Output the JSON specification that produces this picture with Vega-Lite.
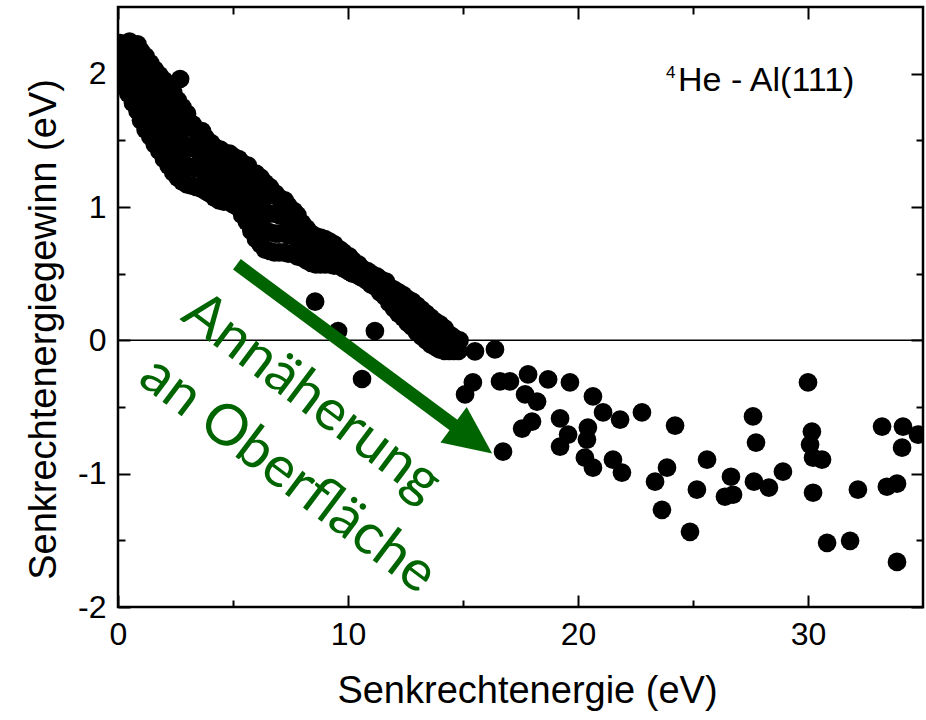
{
  "$schema": "https://vega.github.io/schema/vega-lite/v6.json",
  "width": 805,
  "height": 600,
  "autosize": {"type": "none"},
  "padding": {"left": 118, "top": 7, "right": 3, "bottom": 113},
  "background": "white",
  "config": {
    "view": {"stroke": "#000000", "strokeWidth": 2.5},
    "axis": {"grid": false, "domain": false, "labelFlush": false, "labelOverlap": false, "tickColor": "#000000", "tickWidth": 2}
  },
  "datasets": {
    "pts": [
      {"x":0.1,"y":1.95},{"x":0.1,"y":2.05},{"x":0.15,"y":2.15},{"x":0.1,"y":2.23},
      {"x":0.45,"y":1.85},{"x":0.5,"y":1.97},{"x":0.45,"y":2.1},{"x":0.5,"y":2.24},
      {"x":0.85,"y":1.72},{"x":0.8,"y":1.85},{"x":0.85,"y":1.98},{"x":0.8,"y":2.1},{"x":0.85,"y":2.22},
      {"x":1.2,"y":1.58},{"x":1.25,"y":1.72},{"x":1.2,"y":1.86},{"x":1.25,"y":2.0},{"x":1.2,"y":2.13},
      {"x":1.6,"y":1.47},{"x":1.65,"y":1.6},{"x":1.6,"y":1.75},{"x":1.65,"y":1.9},{"x":1.6,"y":2.03},
      {"x":2.0,"y":1.36},{"x":2.05,"y":1.5},{"x":2.0,"y":1.65},{"x":2.05,"y":1.8},{"x":2.0,"y":1.95},
      {"x":2.4,"y":1.26},{"x":2.45,"y":1.4},{"x":2.4,"y":1.55},{"x":2.45,"y":1.7},{"x":2.4,"y":1.86},
      {"x":2.7,"y":1.96},
      {"x":2.8,"y":1.19},{"x":2.85,"y":1.33},{"x":2.8,"y":1.48},{"x":2.85,"y":1.62},{"x":2.8,"y":1.75},
      {"x":3.2,"y":1.16},{"x":3.25,"y":1.3},{"x":3.2,"y":1.45},{"x":3.25,"y":1.62},
      {"x":3.6,"y":1.14},{"x":3.65,"y":1.28},{"x":3.6,"y":1.42},{"x":3.65,"y":1.57},
      {"x":4.0,"y":1.1},{"x":4.05,"y":1.23},{"x":4.0,"y":1.36},{"x":4.05,"y":1.48},
      {"x":4.4,"y":1.05},{"x":4.45,"y":1.18},{"x":4.4,"y":1.3},{"x":4.45,"y":1.43},
      {"x":4.8,"y":1.04},{"x":4.85,"y":1.16},{"x":4.8,"y":1.28},{"x":4.85,"y":1.4},
      {"x":5.2,"y":1.0},{"x":5.25,"y":1.12},{"x":5.2,"y":1.24},{"x":5.25,"y":1.36},
      {"x":5.6,"y":0.89},{"x":5.65,"y":1.02},{"x":5.6,"y":1.16},{"x":5.65,"y":1.31},
      {"x":6.0,"y":0.76},{"x":6.05,"y":0.9},{"x":6.0,"y":1.05},{"x":6.05,"y":1.16},{"x":6.0,"y":1.25},
      {"x":6.4,"y":0.68},{"x":6.45,"y":0.82},{"x":6.4,"y":0.96},{"x":6.45,"y":1.08},{"x":6.4,"y":1.18},
      {"x":6.8,"y":0.66},{"x":6.85,"y":0.8},{"x":6.8,"y":0.95},{"x":6.85,"y":1.1},
      {"x":7.2,"y":0.66},{"x":7.25,"y":0.8},{"x":7.2,"y":0.93},{"x":7.25,"y":1.05},
      {"x":7.6,"y":0.65},{"x":7.65,"y":0.78},{"x":7.6,"y":0.9},{"x":7.65,"y":0.97},
      {"x":8.0,"y":0.62},{"x":8.05,"y":0.75},{"x":8.0,"y":0.88},
      {"x":8.4,"y":0.58},{"x":8.45,"y":0.7},{"x":8.4,"y":0.8},
      {"x":8.8,"y":0.57},{"x":8.85,"y":0.67},{"x":8.8,"y":0.77},
      {"x":9.2,"y":0.57},{"x":9.25,"y":0.66},{"x":9.2,"y":0.74},
      {"x":9.6,"y":0.56},{"x":9.65,"y":0.68},
      {"x":10.0,"y":0.52},{"x":10.05,"y":0.63},
      {"x":10.4,"y":0.49},{"x":10.45,"y":0.57},
      {"x":10.8,"y":0.45},{"x":10.85,"y":0.52},
      {"x":11.2,"y":0.4},{"x":11.25,"y":0.48},
      {"x":11.6,"y":0.33},{"x":11.65,"y":0.44},
      {"x":12.0,"y":0.24},{"x":12.05,"y":0.32},{"x":12.0,"y":0.38},
      {"x":12.4,"y":0.17},{"x":12.45,"y":0.26},{"x":12.4,"y":0.34},
      {"x":12.8,"y":0.1},{"x":12.85,"y":0.2},{"x":12.8,"y":0.29},
      {"x":13.2,"y":0.03},{"x":13.25,"y":0.13},{"x":13.2,"y":0.23},
      {"x":13.6,"y":-0.03},{"x":13.65,"y":0.07},{"x":13.6,"y":0.17},
      {"x":14.0,"y":-0.07},{"x":14.05,"y":0.03},{"x":14.0,"y":0.12},
      {"x":14.4,"y":-0.08},{"x":14.45,"y":0.04},
      {"x":14.8,"y":-0.08},{"x":14.85,"y":0.0},
      {"x":0.3,"y":1.9},{"x":0.3,"y":2.0},{"x":0.3,"y":2.1},{"x":0.3,"y":2.2},
      {"x":0.65,"y":1.78},{"x":0.65,"y":1.9},{"x":0.65,"y":2.04},{"x":0.65,"y":2.16},
      {"x":1.0,"y":1.65},{"x":1.0,"y":1.79},{"x":1.0,"y":1.93},{"x":1.0,"y":2.06},{"x":1.0,"y":2.17},
      {"x":1.4,"y":1.53},{"x":1.4,"y":1.66},{"x":1.4,"y":1.8},{"x":1.4,"y":1.95},{"x":1.4,"y":2.08},
      {"x":1.8,"y":1.42},{"x":1.8,"y":1.55},{"x":1.8,"y":1.7},{"x":1.8,"y":1.85},{"x":1.8,"y":1.99},
      {"x":2.2,"y":1.31},{"x":2.2,"y":1.45},{"x":2.2,"y":1.6},{"x":2.2,"y":1.75},{"x":2.2,"y":1.9},
      {"x":2.6,"y":1.22},{"x":2.6,"y":1.36},{"x":2.6,"y":1.5},{"x":2.6,"y":1.64},{"x":2.6,"y":1.8},
      {"x":3.0,"y":1.17},{"x":3.0,"y":1.3},{"x":3.0,"y":1.45},{"x":3.0,"y":1.6},{"x":3.0,"y":1.7},
      {"x":3.4,"y":1.15},{"x":3.4,"y":1.29},{"x":3.4,"y":1.43},{"x":3.4,"y":1.57},
      {"x":3.8,"y":1.12},{"x":3.8,"y":1.25},{"x":3.8,"y":1.38},{"x":3.8,"y":1.52},
      {"x":4.2,"y":1.07},{"x":4.2,"y":1.2},{"x":4.2,"y":1.33},{"x":4.2,"y":1.45},
      {"x":4.6,"y":1.04},{"x":4.6,"y":1.17},{"x":4.6,"y":1.29},{"x":4.6,"y":1.41},
      {"x":5.0,"y":1.02},{"x":5.0,"y":1.14},{"x":5.0,"y":1.26},{"x":5.0,"y":1.38},
      {"x":5.4,"y":0.94},{"x":5.4,"y":1.07},{"x":5.4,"y":1.2},{"x":5.4,"y":1.33},
      {"x":5.8,"y":0.82},{"x":5.8,"y":0.96},{"x":5.8,"y":1.1},{"x":5.8,"y":1.24},
      {"x":6.2,"y":0.72},{"x":6.2,"y":0.86},{"x":6.2,"y":1.0},{"x":6.2,"y":1.12},{"x":6.2,"y":1.22},
      {"x":6.6,"y":0.67},{"x":6.6,"y":0.81},{"x":6.6,"y":0.95},{"x":6.6,"y":1.09},{"x":6.6,"y":1.15},
      {"x":7.0,"y":0.66},{"x":7.0,"y":0.8},{"x":7.0,"y":0.94},{"x":7.0,"y":1.07},
      {"x":7.4,"y":0.65},{"x":7.4,"y":0.79},{"x":7.4,"y":0.91},{"x":7.4,"y":1.01},
      {"x":7.8,"y":0.63},{"x":7.8,"y":0.76},{"x":7.8,"y":0.89},{"x":7.8,"y":0.94},
      {"x":8.2,"y":0.6},{"x":8.2,"y":0.72},{"x":8.2,"y":0.84},
      {"x":8.6,"y":0.57},{"x":8.6,"y":0.68},{"x":8.6,"y":0.78},
      {"x":9.0,"y":0.57},{"x":9.0,"y":0.66},{"x":9.0,"y":0.76},
      {"x":9.4,"y":0.56},{"x":9.4,"y":0.64},{"x":9.4,"y":0.72},
      {"x":9.8,"y":0.54},{"x":9.8,"y":0.62},{"x":9.8,"y":0.66},
      {"x":10.2,"y":0.5},{"x":10.2,"y":0.6},
      {"x":10.6,"y":0.47},{"x":10.6,"y":0.54},
      {"x":11.0,"y":0.42},{"x":11.0,"y":0.5},
      {"x":11.4,"y":0.36},{"x":11.4,"y":0.46},
      {"x":11.8,"y":0.28},{"x":11.8,"y":0.4},
      {"x":12.2,"y":0.2},{"x":12.2,"y":0.29},{"x":12.2,"y":0.36},
      {"x":12.6,"y":0.13},{"x":12.6,"y":0.23},{"x":12.6,"y":0.31},
      {"x":13.0,"y":0.06},{"x":13.0,"y":0.16},{"x":13.0,"y":0.26},
      {"x":13.4,"y":0.0},{"x":13.4,"y":0.1},{"x":13.4,"y":0.2},
      {"x":13.8,"y":-0.05},{"x":13.8,"y":0.05},{"x":13.8,"y":0.14},
      {"x":14.2,"y":-0.08},{"x":14.2,"y":0.03},{"x":14.2,"y":0.09},
      {"x":14.6,"y":-0.08},{"x":14.6,"y":0.02},
      {"x":8.57,"y":0.29},{"x":9.57,"y":0.07},{"x":11.17,"y":0.07},{"x":10.61,"y":-0.29},
      {"x":15.52,"y":-0.083},{"x":16.39,"y":-0.068},{"x":15.09,"y":-0.406},{"x":15.43,"y":-0.316},
      {"x":16.61,"y":-0.308},{"x":17.04,"y":-0.308},{"x":17.83,"y":-0.256},{"x":18.7,"y":-0.293},
      {"x":19.65,"y":-0.316},{"x":17.7,"y":-0.406},{"x":18.22,"y":-0.459},{"x":20.65,"y":-0.421},
      {"x":21.09,"y":-0.541},{"x":21.83,"y":-0.594},{"x":22.78,"y":-0.541},{"x":24.22,"y":-0.639},
      {"x":19.22,"y":-0.586},{"x":18.0,"y":-0.609},{"x":17.57,"y":-0.662},{"x":19.57,"y":-0.707},
      {"x":20.43,"y":-0.654},{"x":20.39,"y":-0.744},{"x":19.22,"y":-0.797},{"x":16.74,"y":-0.835},
      {"x":20.3,"y":-0.88},{"x":20.65,"y":-0.955},{"x":21.52,"y":-0.895},{"x":21.91,"y":-0.992},
      {"x":23.35,"y":-1.06},{"x":23.87,"y":-0.955},{"x":23.65,"y":-1.271},{"x":24.87,"y":-1.436},
      {"x":25.61,"y":-0.895},{"x":25.17,"y":-1.12},{"x":26.65,"y":-1.023},{"x":26.39,"y":-1.173},
      {"x":26.74,"y":-1.158},{"x":27.61,"y":-0.571},{"x":27.74,"y":-0.767},{"x":27.65,"y":-1.06},
      {"x":28.3,"y":-1.105},{"x":28.91,"y":-0.985},{"x":30.0,"y":-0.316},{"x":30.17,"y":-0.684},
      {"x":30.09,"y":-0.782},{"x":30.22,"y":-0.88},{"x":30.61,"y":-0.895},{"x":30.22,"y":-1.143},
      {"x":30.83,"y":-1.519},{"x":31.83,"y":-1.504},{"x":32.17,"y":-1.12},{"x":33.22,"y":-0.647},
      {"x":33.43,"y":-1.098},{"x":33.87,"y":-1.075},{"x":34.13,"y":-0.647},{"x":34.09,"y":-0.805},
      {"x":34.78,"y":-0.707},{"x":33.87,"y":-1.662}
    ],
    "zero": [{"y": 0}],
    "shaft": [{"x": 5.17, "y": 0.57, "x2": 14.78, "y2": -0.66}],
    "head": [{"x": 15.43, "y": -0.741}],
    "t1": [{"x": 8.43, "y": -0.43, "label": "Annäherung"}],
    "t2": [{"x": 7.39, "y": -1.01, "label": "an Oberfläche"}],
    "t3": [{"x": 23.83, "y": 1.965, "label": "4"}],
    "t4": [{"x": 24.35, "y": 1.868, "label": "He - Al(111)"}]
  },
  "resolve": {"axis": {"x": "independent", "y": "independent"}},
  "layer": [
    {
      "data": {"name": "pts"},
      "mark": {"type": "circle", "size": 350, "color": "#000000", "opacity": 1, "clip": true},
      "encoding": {
        "x": {"field": "x", "type": "quantitative", "scale": {"domain": [0, 35], "nice": false, "zero": false},
          "axis": {"orient": "bottom", "values": [0, 10, 20, 30], "ticks": false, "labelFont": "Liberation Sans", "labelFontSize": 32, "labelColor": "#000000", "labelPadding": 12,
            "title": "Senkrechtenergie (eV)", "titleFont": "Liberation Sans", "titleFontSize": 38, "titleFontWeight": "normal", "titleColor": "#000000", "titlePadding": 22, "titleX": 409}},
        "y": {"field": "y", "type": "quantitative", "scale": {"domain": [-2, 2.5], "nice": false, "zero": false},
          "axis": {"orient": "left", "values": [-2, -1, 0, 1, 2], "ticks": false, "labelFont": "Liberation Sans", "labelFontSize": 32, "labelColor": "#000000", "labelPadding": 12,
            "labelExpr": "replace(datum.label, '\u2212', '-')",
            "title": "Senkrechtenergiegewinn (eV)", "titleFont": "Liberation Sans", "titleFontSize": 38, "titleFontWeight": "normal", "titleColor": "#000000", "titlePadding": 14, "titleY": 322}}
      }
    },
    {
      "data": {"name": "zero"},
      "mark": {"type": "rule", "color": "#000000", "strokeWidth": 1.5},
      "encoding": {
        "y": {"field": "y", "type": "quantitative", "scale": {"domain": [-2, 2.5], "nice": false, "zero": false},
          "axis": {"orient": "left", "values": [-2, -1, 0, 1, 2], "labels": false, "tickSize": -12, "title": null}}
      }
    },
    {
      "data": {"name": "shaft"},
      "mark": {"type": "rule", "color": "#006400", "strokeWidth": 13, "strokeCap": "butt"},
      "encoding": {
        "x": {"field": "x", "type": "quantitative", "scale": {"domain": [0, 35], "nice": false, "zero": false},
          "axis": {"orient": "bottom", "values": [0, 10, 20, 30], "labels": false, "tickSize": -12, "title": null}},
        "y": {"field": "y", "type": "quantitative", "scale": {"domain": [-2, 2.5], "nice": false, "zero": false},
          "axis": {"orient": "left", "values": [-1.5, -0.5, 0.5, 1.5], "labels": false, "tickSize": -7, "title": null}},
        "x2": {"field": "x2"},
        "y2": {"field": "y2"}
      }
    },
    {
      "data": {"name": "head"},
      "mark": {"type": "point", "shape": "M1,0L-1,-0.92L-1,0.92Z", "filled": true, "color": "#006400", "opacity": 1, "size": 2304, "angle": 36.5},
      "encoding": {
        "x": {"field": "x", "type": "quantitative", "scale": {"domain": [0, 35], "nice": false, "zero": false},
          "axis": {"orient": "bottom", "values": [5, 15, 25], "labels": false, "tickSize": -7, "title": null}},
        "y": {"field": "y", "type": "quantitative", "scale": {"domain": [-2, 2.5], "nice": false, "zero": false},
          "axis": {"orient": "right", "values": [-2, -1, 0, 1, 2], "labels": false, "tickSize": -12, "title": null}}
      }
    },
    {
      "data": {"name": "t1"},
      "mark": {"type": "text", "font": "Lato", "fontSize": 57, "color": "#006400", "angle": 37, "align": "center", "baseline": "middle"},
      "encoding": {
        "x": {"field": "x", "type": "quantitative", "scale": {"domain": [0, 35], "nice": false, "zero": false},
          "axis": {"orient": "top", "values": [0, 10, 20, 30], "labels": false, "tickSize": -12, "title": null}},
        "y": {"field": "y", "type": "quantitative", "scale": {"domain": [-2, 2.5], "nice": false, "zero": false},
          "axis": {"orient": "right", "values": [-1.5, -0.5, 0.5, 1.5], "labels": false, "tickSize": -7, "title": null}},
        "text": {"field": "label"}
      }
    },
    {
      "data": {"name": "t2"},
      "mark": {"type": "text", "font": "Lato", "fontSize": 57, "color": "#006400", "angle": 37, "align": "center", "baseline": "middle"},
      "encoding": {
        "x": {"field": "x", "type": "quantitative", "scale": {"domain": [0, 35], "nice": false, "zero": false},
          "axis": {"orient": "top", "values": [5, 15, 25], "labels": false, "tickSize": -7, "title": null}},
        "y": {"field": "y", "type": "quantitative", "scale": {"domain": [-2, 2.5], "nice": false, "zero": false}, "axis": null},
        "text": {"field": "label"}
      }
    },
    {
      "data": {"name": "t3"},
      "mark": {"type": "text", "font": "Liberation Sans", "fontSize": 17, "color": "#000000", "align": "left", "baseline": "alphabetic"},
      "encoding": {
        "x": {"field": "x", "type": "quantitative", "scale": {"domain": [0, 35], "nice": false, "zero": false}, "axis": null},
        "y": {"field": "y", "type": "quantitative", "scale": {"domain": [-2, 2.5], "nice": false, "zero": false}, "axis": null},
        "text": {"field": "label"}
      }
    },
    {
      "data": {"name": "t4"},
      "mark": {"type": "text", "font": "Liberation Sans", "fontSize": 34, "color": "#000000", "align": "left", "baseline": "alphabetic"},
      "encoding": {
        "x": {"field": "x", "type": "quantitative", "scale": {"domain": [0, 35], "nice": false, "zero": false}, "axis": null},
        "y": {"field": "y", "type": "quantitative", "scale": {"domain": [-2, 2.5], "nice": false, "zero": false}, "axis": null},
        "text": {"field": "label"}
      }
    }
  ]
}
